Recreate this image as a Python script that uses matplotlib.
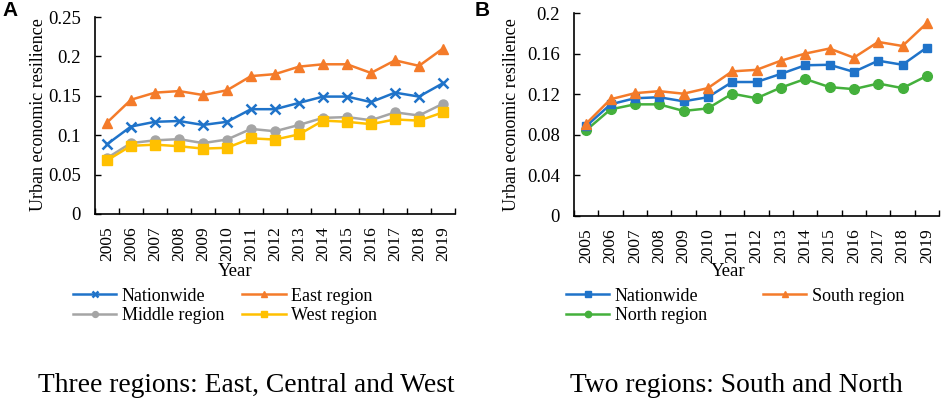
import matplotlib
matplotlib.use("Agg")
import matplotlib.pyplot as plt
import numpy as np

years = [str(y) for y in range(2005, 2020)]

# Panel A: three regions
a_nation = [0.0885, 0.111, 0.117, 0.118, 0.113, 0.117, 0.133, 0.133, 0.141, 0.149, 0.149, 0.142, 0.154, 0.149, 0.166]
a_east   = [0.116, 0.145, 0.154, 0.156, 0.151, 0.157, 0.175, 0.1775, 0.187, 0.190, 0.190, 0.179, 0.195, 0.188, 0.210]
a_middle = [0.071, 0.090, 0.0935, 0.095, 0.090, 0.0945, 0.108, 0.105, 0.113, 0.122, 0.123, 0.119, 0.129, 0.125, 0.140]
a_west   = [0.068, 0.0865, 0.088, 0.086, 0.083, 0.084, 0.096, 0.0945, 0.101, 0.1185, 0.117, 0.114, 0.120, 0.1185, 0.129]

# Panel B: two regions
b_nation = [0.0885, 0.110, 0.116, 0.117, 0.113, 0.117, 0.132, 0.132, 0.140, 0.1485, 0.149, 0.142, 0.153, 0.149, 0.166]
b_south  = [0.091, 0.115, 0.121, 0.123, 0.1205, 0.126, 0.1425, 0.144, 0.153, 0.160, 0.165, 0.156, 0.1715, 0.1675, 0.190]
b_north  = [0.0845, 0.105, 0.110, 0.110, 0.1035, 0.106, 0.1205, 0.116, 0.1265, 0.135, 0.127, 0.125, 0.1305, 0.126, 0.138]

a_yticks = [0, 0.05, 0.1, 0.15, 0.2, 0.25]
a_yticklabels = ["0", "0.05", "0.1", "0.15", "0.2", "0.25"]
b_yticks = [0, 0.04, 0.08, 0.12, 0.16, 0.2]
b_yticklabels = ["0", "0.04", "0.08", "0.12", "0.16", "0.2"]

BLUE = "#1F73C9"
ORANGE = "#F47B2A"
GRAY = "#A5A5A5"
YELLOW = "#FFC000"
GREEN = "#44B03C"

serif = ["Liberation Serif", "DejaVu Serif"]
plt.rcParams["font.family"] = serif

fig = plt.figure(figsize=(9.41, 3.99), dpi=100)

def style_axes(ax, ymax, yticks, yticklabels):
    x = np.arange(len(years))
    ax.set_xlim(-0.5, len(years) - 0.5)
    ax.set_ylim(0, ymax)
    ax.set_xticks(x)
    ax.set_xticklabels(years, rotation=90, fontsize=12.5)
    ax.set_xticks(np.arange(-0.5, len(years), 1.0), minor=True)
    ax.tick_params(axis="x", which="major", length=0, pad=9)
    ax.tick_params(axis="x", which="minor", length=4, width=1.0, direction="in")
    ax.set_yticks(yticks)
    ax.set_yticklabels(yticklabels, fontsize=13.5)
    ax.tick_params(axis="y", length=4, width=1.0, direction="in", pad=10)
    for s in ["top", "right"]:
        ax.spines[s].set_visible(False)
    for s in ["left", "bottom"]:
        ax.spines[s].set_linewidth(1.2)
    ax.set_facecolor("none")

# Panel A
axA = fig.add_axes([95/941, 1 - 214/399, 360/941, 197/399])
x = np.arange(len(years))
lw = 1.8
axA.plot(x, a_middle, color=GRAY, lw=lw, marker="o", ms=6.5, label="Middle region")
axA.plot(x, a_west, color=YELLOW, lw=lw, marker="s", ms=6.5, label="West region")
axA.plot(x, a_nation, color=BLUE, lw=lw, marker="x", ms=7, mew=1.8, label="Nationwide")
axA.plot(x, a_east, color=ORANGE, lw=lw, marker="^", ms=7.5, label="East region")
style_axes(axA, 0.25, a_yticks, a_yticklabels)
hA = dict(zip([l.get_label() for l in axA.lines], axA.lines))
axA.legend([hA["Nationwide"], hA["Middle region"], hA["East region"], hA["West region"]],
           ["Nationwide", "Middle region", "East region", "West region"],
           ncol=2, frameon=False, fontsize=13, loc="center",
           bbox_to_anchor=(225/941, 1 - 306/399), bbox_transform=fig.transFigure,
           handlelength=2.4, handletextpad=0.3, columnspacing=1.0, labelspacing=0.15,
           markerscale=0.65)

# Panel B
axB = fig.add_axes([574/941, 1 - 216/399, 365/941, 203/399])
axB.plot(x, b_north, color=GREEN, lw=lw, marker="o", ms=7, label="North region")
axB.plot(x, b_nation, color=BLUE, lw=lw, marker="s", ms=6, label="Nationwide")
axB.plot(x, b_south, color=ORANGE, lw=lw, marker="^", ms=7, label="South region")
style_axes(axB, 0.2, b_yticks, b_yticklabels)
hB = dict(zip([l.get_label() for l in axB.lines], axB.lines))
axB.legend([hB["Nationwide"], hB["North region"], hB["South region"]],
           ["Nationwide", "North region", "South region"],
           ncol=2, frameon=False, fontsize=13, loc="center",
           bbox_to_anchor=(735/941, 1 - 306/399), bbox_transform=fig.transFigure,
           handlelength=2.4, handletextpad=0.3, columnspacing=3.1, labelspacing=0.15,
           markerscale=0.65)

# Axis labels
fig.text(235/941, 1 - 272/399, "Year", ha="center", va="center", fontsize=13.5)
fig.text(728/941, 1 - 272/399, "Year", ha="center", va="center", fontsize=13.5)
fig.text(39/941, 1 - 115/399, "Urban economic resilience", ha="center", va="center",
         rotation=90, fontsize=13)
fig.text(512/941, 1 - 115/399, "Urban economic resilience", ha="center", va="center",
         rotation=90, fontsize=13)

# Panel letters
fig.text(2/941, 1 - 11/399, "A", ha="left", va="center", fontsize=15, fontweight="bold",
         family=["Liberation Sans", "DejaVu Sans"])
fig.text(475/941, 1 - 11/399, "B", ha="left", va="center", fontsize=15, fontweight="bold",
         family=["Liberation Sans", "DejaVu Sans"])

# Captions
fig.text(246/941, 1 - 386/399, "Three regions: East, Central and West", ha="center",
         va="center", fontsize=19.8)
fig.text(736/941, 1 - 386/399, "Two regions: South and North", ha="center",
         va="center", fontsize=19.8)

fig.savefig("out.png", dpi=100, facecolor="white")
